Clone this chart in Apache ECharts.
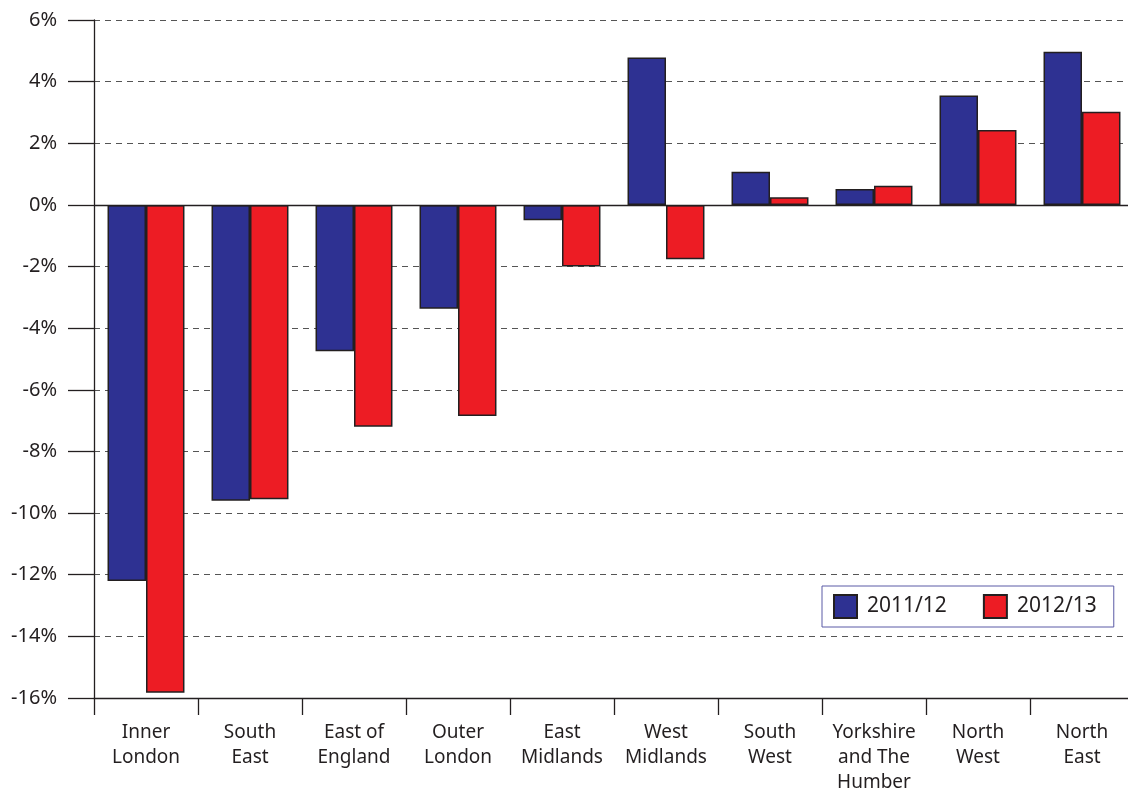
<!DOCTYPE html>
<html>
<head>
<meta charset="utf-8">
<script src="https://cdn.jsdelivr.net/npm/echarts@6/dist/echarts.min.js"></script>
<style>
  html, body { margin: 0; padding: 0; background: #fff; }
  #chart { width: 1128px; height: 793px; }
</style>
</head>
<body>
<div id="chart"></div>
<script>
// regions along the x axis
var regions = ['Inner\nLondon', 'South\nEast', 'East of\nEngland', 'Outer\nLondon', 'East\nMidlands',
  'West\nMidlands', 'South\nWest', 'Yorkshire\nand The\nHumber', 'North\nWest', 'North\nEast']
// % change per year
var y2011 = [-12.2, -9.6, -4.75, -3.37, -0.5, 4.78, 1.08, 0.52, 3.55, 4.97]
var y2012 = [-15.83, -9.55, -7.2, -6.85, -2.0, -1.76, 0.25, 0.62, 2.43, 3.02]
var seriesNames = ['2011/12', '2012/13']

var fontName = '"Noto Sans", sans-serif'
var chart = echarts.init(document.getElementById('chart'))

chart.setOption({
  animation: false,
  textStyle: { fontFamily: fontName, color: '#231f20' },
  grid: { left: 94, top: 20, width: 1040, height: 678, containLabel: false, outerBoundsMode: 'none' },
  legend: {
    data: seriesNames,
    left: 822,
    top: 586,
    orient: 'horizontal',
    backgroundColor: '#fff',
    borderColor: '#5a5aa6',
    borderWidth: 1,
    borderRadius: 0,
    padding: [8, 17, 8, 11],
    itemWidth: 23,
    itemHeight: 23,
    itemGap: 36,
    icon: 'rect',
    textStyle: { fontSize: 21, color: '#231f20', fontFamily: fontName, padding: [0, 0, 0, 5] }
  },
  xAxis: {
    type: 'category',
    data: regions,
    position: 'bottom',
    axisLine: { onZero: false, lineStyle: { color: '#231f20', width: 1.3 } },
    axisTick: { show: true, length: 17, lineStyle: { color: '#231f20', width: 1.3 } },
    axisLabel: { fontSize: 19, lineHeight: 25, margin: 22, color: '#231f20', interval: 0 }
  },
  yAxis: {
    type: 'value',
    min: -16,
    max: 6,
    interval: 2,
    axisLine: { show: true, lineStyle: { color: '#231f20', width: 1.3 } },
    axisTick: { show: true, inside: false, length: 26, lineStyle: { color: '#231f20', width: 1.3 } },
    axisLabel: {
      fontSize: 20, margin: 37, color: '#231f20',
      formatter: function (v) { return v + '%' }
    },
    splitLine: { show: true, lineStyle: { color: '#555', type: [6, 5], width: 1 } }
  },
  series: [
    {
      name: seriesNames[0],
      type: 'bar',
      data: y2011,
      barGap: '0%',
      barCategoryGap: '26%',
      itemStyle: { color: '#2e3192', borderColor: '#231f20', borderWidth: 1.5 },
      markLine: {
        silent: true,
        symbol: 'none',
        label: { show: false },
        lineStyle: { color: '#231f20', type: 'solid', width: 1.3 },
        data: [{ yAxis: 0 }]
      }
    },
    {
      name: seriesNames[1],
      type: 'bar',
      data: y2012,
      barGap: '0%',
      barCategoryGap: '26%',
      itemStyle: { color: '#ed1c24', borderColor: '#231f20', borderWidth: 1.5 }
    }
  ]
})
</script>
</body>
</html>
